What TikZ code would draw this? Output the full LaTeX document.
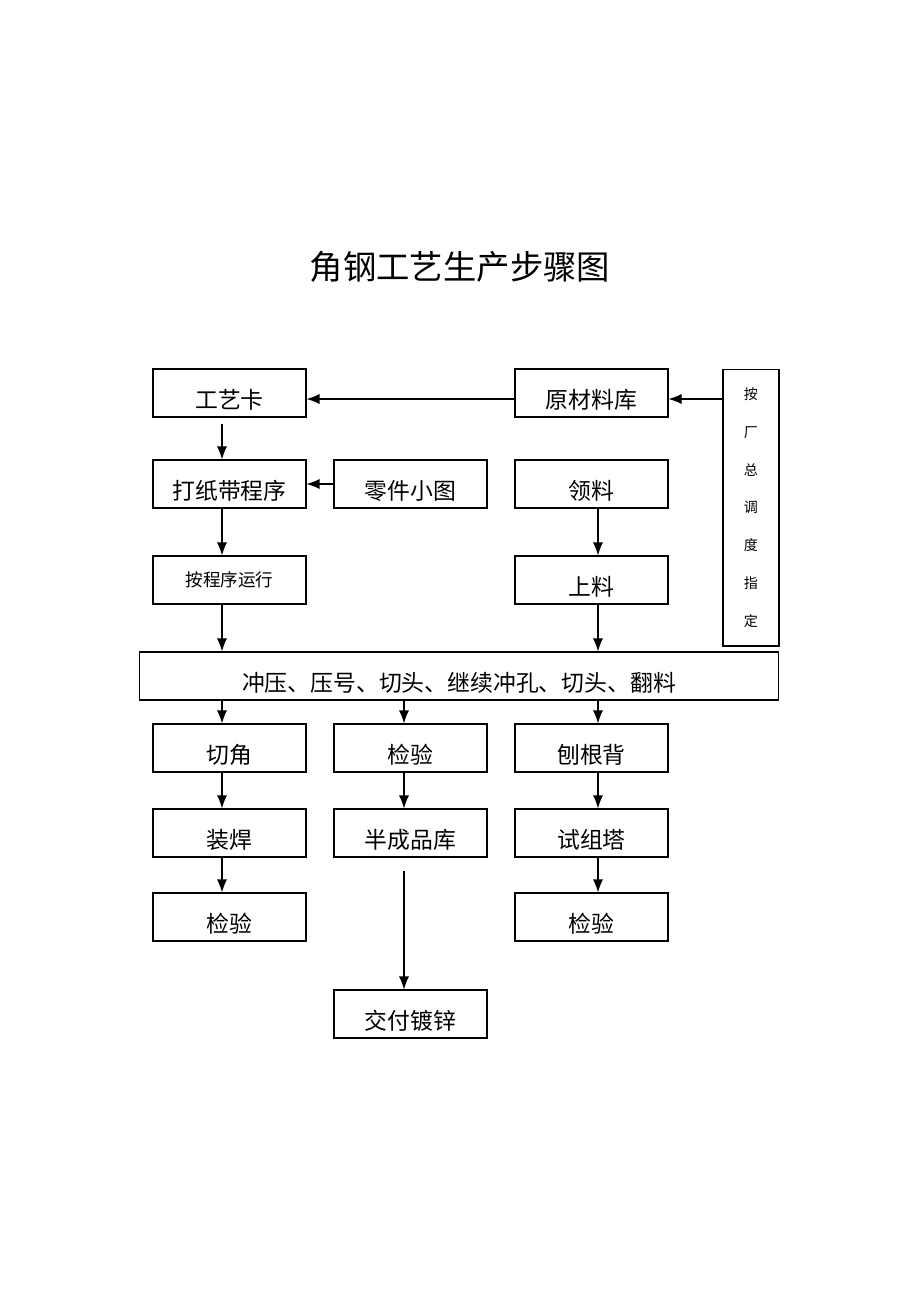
\documentclass[tikz,border=0pt]{standalone}
\usepackage{fontspec}
\setmainfont{Noto Sans CJK SC}
\usetikzlibrary{arrows.meta}
\tikzset{
	box/.style={draw, line width=0.6pt, minimum width=3.06cm, minimum height=0.96cm, inner sep=0pt, font=\fontsize{13}{15}\selectfont, text height=0.62cm, text depth=0cm},
	arr/.style={line width=0.7pt, -{Latex[length=2.6mm,width=2mm]}}
}

\begin{document}
\begin{tikzpicture}[x=0.02cm, y=-0.02cm]
	\useasboundingbox (0,0) rectangle (920,1302);
	\node (title) at (460,267) {\fontsize{19}{22}\selectfont 角钢工艺生产步骤图};
	\coordinate (colA) at (222,0);
	\coordinate (colB) at (404,0);
	\coordinate (colC) at (598,0);
	\coordinate (rowA) at (0,399);
	\node [box] (gyk) at (229.5,393) {工艺卡};
	\node [box] (ycl) at (591.5,393) {原材料库};
	\node [draw, line width=0.6pt, minimum width=1.12cm, minimum height=5.54cm, inner sep=0pt, align=center, font=\fontsize{8}{21.5}\selectfont] (zd) at (751,507.5) {按\\厂\\总\\调\\度\\指\\定};
	\node [box] (dzd) at (229.5,484) {打纸带程序};
	\node [box] (ljt) at (410.5,484) {零件小图};
	\node [box] (ll) at (591.5,484) {领料};
	\node [box, font=\fontsize{10}{12}\selectfont, text height=0.7em, text depth=0em] (acx) at (229.5,580) {按程序运行};
	\node [box] (sl) at (591.5,580) {上料};
	\node [box, minimum width=12.8cm] (cy) at (459,676) {冲压、压号、切头、继续冲孔、切头、翻料};
	\node [box] (qj) at (229.5,748) {切角};
	\node [box] (jy1) at (410.5,748) {检验};
	\node [box] (bgb) at (591.5,748) {刨根背};
	\node [box] (zh) at (229.5,833) {装焊};
	\node [box] (bcp) at (410.5,833) {半成品库};
	\node [box] (szt) at (591.5,833) {试组塔};
	\node [box] (jy2) at (229.5,917) {检验};
	\node [box] (jy3) at (591.5,917) {检验};
	\node [box] (jfdx) at (410.5,1014) {交付镀锌};
	\draw [arr] (ycl.west |- rowA) -- (gyk.east |- rowA);
	\draw [arr] (zd.west |- rowA) -- (ycl.east |- rowA);
	\draw [arr, shorten <=0.12cm] (gyk.south -| colA) -- (dzd.north -| colA);
	\draw [arr] (ljt.west) -- (dzd.east);
	\draw [arr] (dzd.south -| colA) -- (acx.north -| colA);
	\draw [arr] (acx.south -| colA) -- (cy.north -| colA);
	\draw [arr] (ll.south -| colC) -- (sl.north -| colC);
	\draw [arr] (sl.south -| colC) -- (cy.north -| colC);
	\draw [arr] (cy.south -| colA) -- (qj.north -| colA);
	\draw [arr] (cy.south -| colB) -- (jy1.north -| colB);
	\draw [arr] (cy.south -| colC) -- (bgb.north -| colC);
	\draw [arr] (qj.south -| colA) -- (zh.north -| colA);
	\draw [arr] (zh.south -| colA) -- (jy2.north -| colA);
	\draw [arr] (jy1.south -| colB) -- (bcp.north -| colB);
	\draw [arr] (bgb.south -| colC) -- (szt.north -| colC);
	\draw [arr] (szt.south -| colC) -- (jy3.north -| colC);
	\draw [arr, shorten <=0.26cm] (bcp.south -| colB) -- (jfdx.north -| colB);
\end{tikzpicture}
\end{document}
